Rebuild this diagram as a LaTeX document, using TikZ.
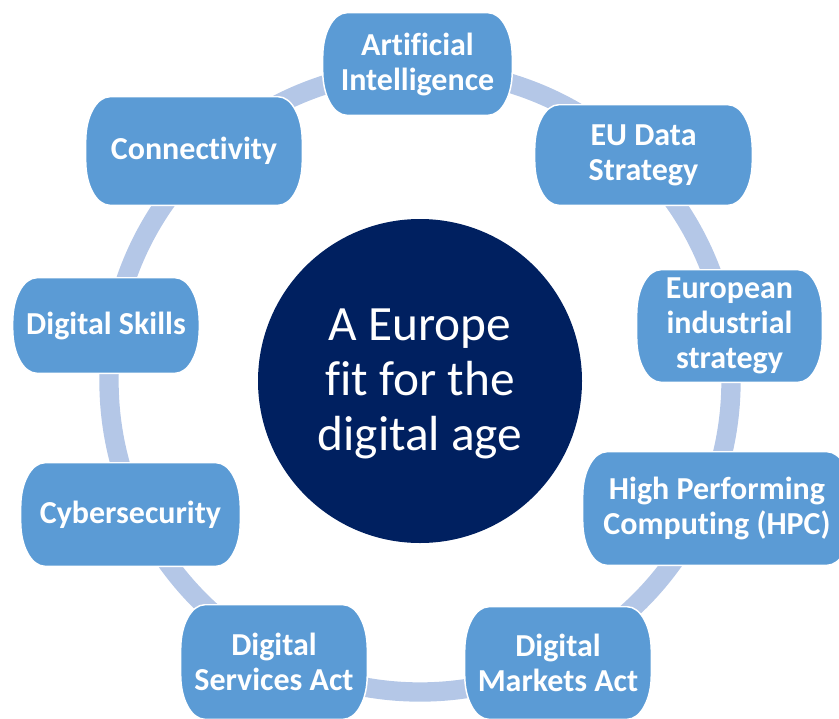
\documentclass[tikz,border=0pt]{standalone}
\usepackage{fontspec}
\setmainfont{Carlito}[Ligatures=NoCommon]
\usetikzlibrary{backgrounds}
\definecolor{boxblue}{HTML}{5B9BD5}
\definecolor{ringblue}{HTML}{B4C7E7}
\definecolor{hubnavy}{HTML}{002060}

\begin{document}
\begin{tikzpicture}[x=0.75pt,y=0.75pt,
  topic/.style={text=white,align=center,inner sep=0pt,
    font=\bfseries\fontsize{24}{26.25}\selectfont},
  topicshape/.style={fill=boxblue,draw=white,line width=1.1pt},
  hub/.style={circle,fill=hubnavy,text=white,align=center,inner sep=0pt,
    minimum size=243pt,font=\fontsize{37}{41.25}\selectfont},
  ring/.style={draw=ringblue,line width=14.5pt}]
\useasboundingbox (0,0) rectangle (839,-718);

%Shape: Circle (centre)
\node[hub] (hub) at (420,-381) {};
\node[text=white,align=center,font=\fontsize{37}{41.25}\selectfont] (hubtext) at (420,-384) {A Europe\\fit for the\\digital age};

%Rounded Rect (top, clockwise)
\node[topic,minimum width=141.75pt,minimum height=76.5pt] (ai) at (417.5,-64) {Artificial\\Intelligence};
\node[topic,minimum width=162.75pt,minimum height=75pt] (data) at (643.5,-155) {EU Data\\Strategy};
\node[topic,minimum width=138.75pt,minimum height=84pt] (indus) at (729.5,-326) {European\\industrial\\strategy};
\node[topic,minimum width=201pt,minimum height=84.75pt] (hpc) at (717,-508.5) {High Performing\\Computing (HPC)};
\node[topic,minimum width=139.5pt,minimum height=84pt] (dma) at (558,-663) {Digital\\Markets Act};
\node[topic,minimum width=139.5pt,minimum height=85.5pt] (dsa) at (274,-662) {Digital\\Services Act};
\node[topic,minimum width=164.25pt,minimum height=77.25pt] (cyber) at (130.5,-514.5) {Cybersecurity};
\node[topic,minimum width=139.5pt,minimum height=71.25pt] (skills) at (106,-325.5) {Digital Skills};
\node[topic,minimum width=162pt,minimum height=81pt] (conn) at (194,-151) {Connectivity};

\begin{scope}[on background layer]
%Ring behind the boxes
\draw[ring] (hub.center) circle[radius=311];
%Box outlines
\foreach \n in {ai,data,indus,hpc,dma,dsa,cyber,skills,conn}
  \draw[topicshape] ([xshift=18pt]\n.north west) -- ([xshift=-18pt]\n.north east)
    arc[start angle=90,end angle=0,x radius=18pt,y radius=33pt]
    -- ([yshift=33pt]\n.south east)
    arc[start angle=0,end angle=-90,x radius=18pt,y radius=33pt]
    -- ([xshift=18pt]\n.south west)
    arc[start angle=270,end angle=180,x radius=18pt,y radius=33pt]
    -- ([yshift=-33pt]\n.north west)
    arc[start angle=180,end angle=90,x radius=18pt,y radius=33pt]
    -- cycle;
\end{scope}
\end{tikzpicture}
\end{document}
